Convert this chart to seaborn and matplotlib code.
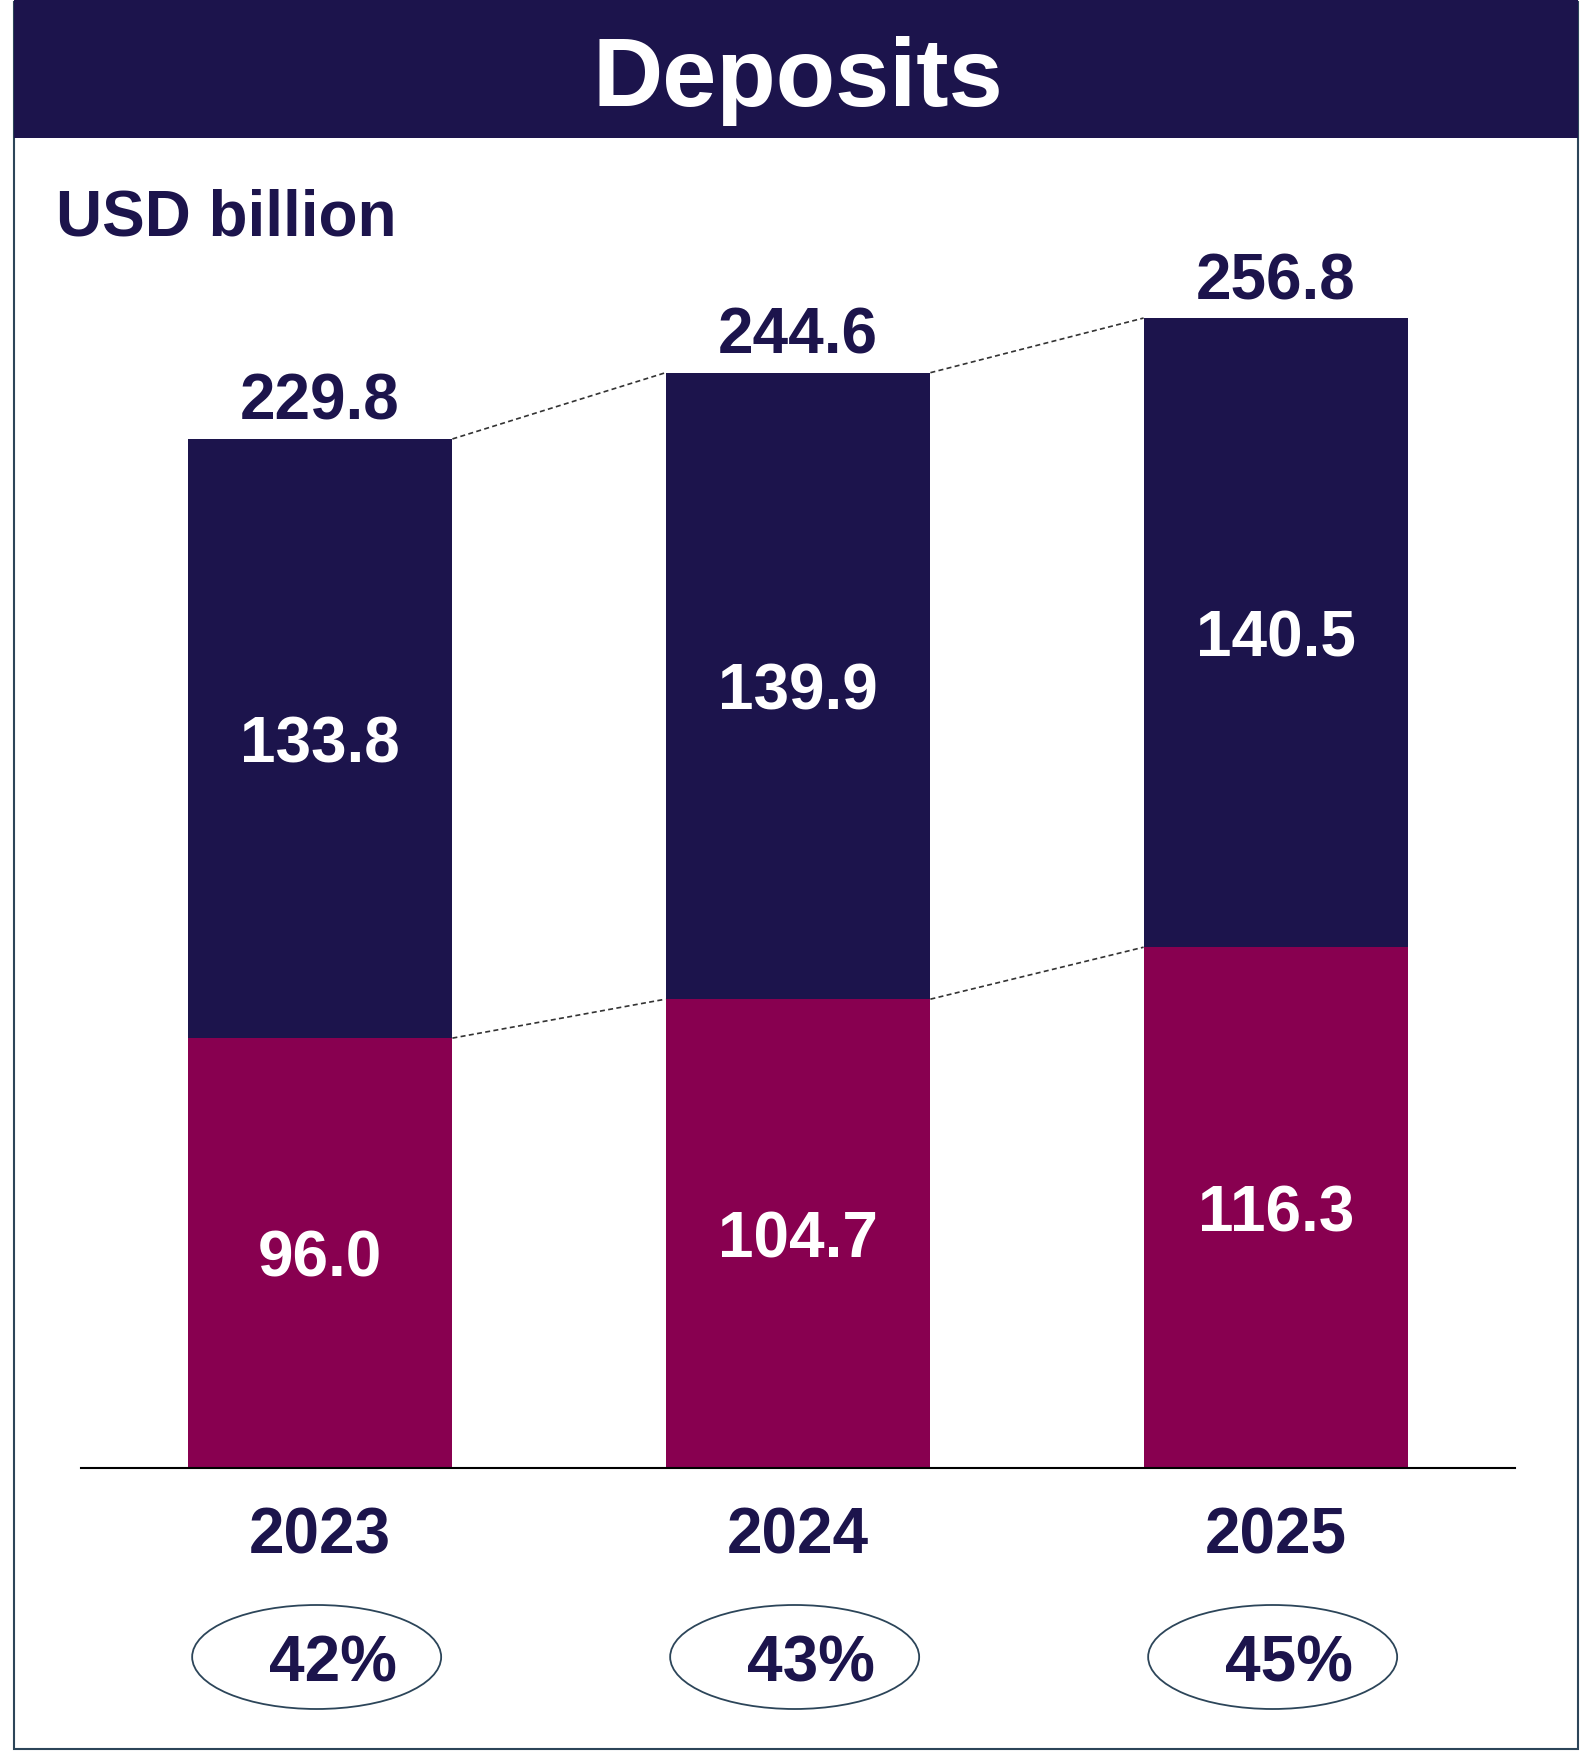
import matplotlib
matplotlib.use("Agg")
import matplotlib.pyplot as plt
from matplotlib.patches import Ellipse, Rectangle
import numpy as np
import pandas as pd
import seaborn as sns

# data
years = ["2023", "2024", "2025"]
lower_vals = [96.0, 104.7, 116.3]     # magenta segment
upper_vals = [133.8, 139.9, 140.5]    # navy segment
total_vals = [229.8, 244.6, 256.8]
share_labels = ["42%", "43%", "45%"]

NAVY = "#1c144c"
MAGENTA = "#880050"
EDGE = "#2c4559"

sns.set_theme(style="white")
plt.rcParams["font.family"] = ["Liberation Sans", "DejaVu Sans"]
plt.rcParams["font.weight"] = "bold"

df = pd.DataFrame({"year": years, "lower": lower_vals,
                   "upper": upper_vals, "total": total_vals})

W, H, DPI = 1588, 1757, 100
fig = plt.figure(figsize=(W / DPI, H / DPI), dpi=DPI)

# axes placed so the baseline sits where it does in the reference
px_per_unit = 4.478
ymax = 280
ax_left, ax_right = 81, 1515
ax_base = 1468
ax_h = ymax * px_per_unit
ax = fig.add_axes([ax_left / W, (H - ax_base) / H,
                   (ax_right - ax_left) / W, ax_h / H])
ax.patch.set_alpha(0)

bar_w = 0.554
sns.barplot(data=df, x="year", y="total", color=NAVY, width=bar_w,
            saturation=1, edgecolor="none", ax=ax)
sns.barplot(data=df, x="year", y="lower", color=MAGENTA, width=bar_w,
            saturation=1, edgecolor="none", ax=ax)

ax.set_xlim(-0.5, 2.5)
ax.set_ylim(0, ymax)
ax.set_xlabel("")
ax.set_ylabel("")
ax.set_xticks([])
ax.set_yticks([])
for s in ["top", "left", "right"]:
    ax.spines[s].set_visible(False)
ax.spines["bottom"].set_color("black")
ax.spines["bottom"].set_linewidth(1.5)

# dashed connectors between bar tops
for i in range(len(years) - 1):
    for vals in (total_vals, lower_vals):
        ax.plot([i + bar_w / 2, i + 1 - bar_w / 2], [vals[i], vals[i + 1]],
                ls=(0, (3, 2)), color="#333333", lw=1.2)

fs = 46
cap = 47 / px_per_unit
for i in range(len(years)):
    ax.text(i, total_vals[i] + 19 / px_per_unit, f"{total_vals[i]:.1f}",
            ha="center", va="baseline", fontsize=fs, color=NAVY,
            fontweight="bold")
    mid_up = lower_vals[i] + upper_vals[i] / 2
    ax.text(i, mid_up - cap / 2, f"{upper_vals[i]:.1f}", ha="center",
            va="baseline", fontsize=fs, color="white", fontweight="bold")
    mid_lo = lower_vals[i] / 2
    ax.text(i, mid_lo - cap / 2, f"{lower_vals[i]:.1f}", ha="center",
            va="baseline", fontsize=fs, color="white", fontweight="bold")
    ax.text(i, -85.5 / px_per_unit, years[i], ha="center", va="baseline",
            fontsize=fs, color=NAVY, fontweight="bold", clip_on=False)
    ell = Ellipse((i - 0.007, -189 / px_per_unit), width=249 / 478,
                  height=104 / px_per_unit, facecolor="none",
                  edgecolor=EDGE, lw=1.3, clip_on=False)
    ax.add_patch(ell)
    ax.text(i + 0.028, -214 / px_per_unit, share_labels[i], ha="center",
            va="baseline", fontsize=fs, color=NAVY, fontweight="bold",
            clip_on=False)

# frame and title band
fig.patches.append(Rectangle((14 / W, 1 - 1749 / H), (1578 - 14) / W,
                             (1749 - 2) / H, transform=fig.transFigure,
                             facecolor="none", edgecolor=EDGE, lw=1.5))
fig.patches.append(Rectangle((14 / W, 1 - 138 / H), (1578 - 14) / W,
                             138 / H, transform=fig.transFigure,
                             facecolor=NAVY, edgecolor="none"))
fig.text(798 / W, 1 - 106 / H, "Deposits", ha="center", va="baseline",
         fontsize=70, color="white", fontweight="bold")
fig.text(56 / W, 1 - 235 / H, "USD billion", ha="left", va="baseline",
         fontsize=fs, color=NAVY, fontweight="bold")

fig.savefig("out.png", dpi=DPI)
